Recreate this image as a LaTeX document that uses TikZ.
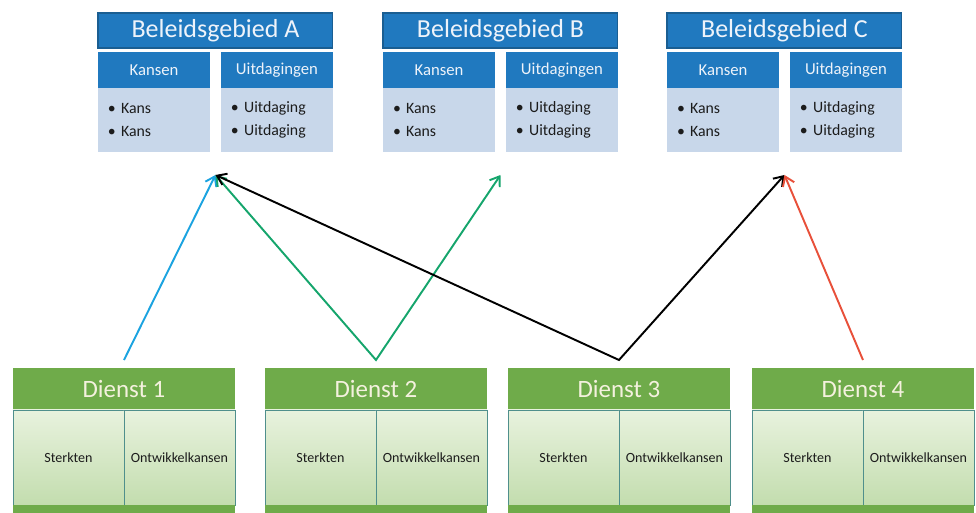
\documentclass[tikz,border=0pt]{standalone}
\usepackage{fontspec}
\setmainfont{Carlito}
\usepackage{xcolor}
\usetikzlibrary{arrows.meta, calc, positioning}
\definecolor{BlueDark}  {HTML}{2079BF}
\definecolor{BlueEdge}  {HTML}{1A5E92}
\definecolor{BlueLight} {HTML}{C8D7EA}
\definecolor{HeadText}  {HTML}{EEF3FA}
\definecolor{GreenHead} {HTML}{6FAB4A}
\definecolor{GreenTop}  {HTML}{E8F2DE}
\definecolor{GreenBot}  {HTML}{C3DDAE}
\definecolor{CellEdge}  {HTML}{4F8F8C}
\definecolor{DienstText}{HTML}{F4F1DE}
\definecolor{Ink}       {HTML}{1C1C1C}
\definecolor{ArrowBlue} {HTML}{1BA3E0}
\definecolor{ArrowGreen}{HTML}{15A56C}
\definecolor{ArrowRed}  {HTML}{E8503A}

\begin{document}
\begin{tikzpicture}[x=0.02cm, y=-0.02cm, inner sep=0pt, outer sep=0pt,
  beleidhead/.style={fill=BlueDark, draw=BlueEdge, line width=0.6pt, text=HeadText,
    minimum width=4.70cm, minimum height=0.70cm, anchor=north west,
    font=\fontsize{14.8}{17}\selectfont},
  subhead/.style={fill=BlueDark, text=HeadText, minimum width=2.24cm,
    minimum height=0.72cm, font=\fontsize{9.5}{11}\selectfont},
  subbody/.style={fill=BlueLight, text=Ink, text width=1.84cm, inner xsep=0.2cm,
    minimum height=1.28cm, align=left, font=\fontsize{9}{13}\selectfont},
  diensthead/.style={fill=GreenHead, text=DienstText, minimum width=4.44cm,
    minimum height=0.84cm, anchor=north west, font=\fontsize{14.2}{16}\selectfont},
  cell/.style={top color=GreenTop, bottom color=GreenBot, draw=CellEdge, line width=0.4pt,
    minimum width=2.22cm, minimum height=1.9cm, anchor=north west, text=Ink,
    font=\fontsize{8}{10}\selectfont},
  strip/.style={fill=GreenHead, minimum width=4.44cm, minimum height=0.16cm, anchor=north west},
  link/.style={line width=1.1pt, {Straight Barb[length=5pt,width=7pt]}-{Straight Barb[length=5pt,width=7pt]}},
  uplink/.style={line width=1.1pt, -{Straight Barb[length=5pt,width=7pt]}}]

  \useasboundingbox (0,0) rectangle (976,513);

  % Beleidsgebied A
  \node[beleidhead] (belA) at (98,13) {Beleidsgebied A};
  \node[subhead, anchor=north west] (kansAh) at (98,52) {Kansen};
  \node[subbody, below=0pt of kansAh] (kansAb) {\textbullet\ Kans\\\textbullet\ Kans};
  \node[subhead, right=0.22cm of kansAh] (uitAh) {Uitdagingen};
  \node[subbody, below=0pt of uitAh] (uitAb) {\textbullet\ Uitdaging\\\textbullet\ Uitdaging};

  % Beleidsgebied B
  \node[beleidhead] (belB) at (383,13) {Beleidsgebied B};
  \node[subhead, anchor=north west] (kansBh) at (383,52) {Kansen};
  \node[subbody, below=0pt of kansBh] (kansBb) {\textbullet\ Kans\\\textbullet\ Kans};
  \node[subhead, right=0.22cm of kansBh] (uitBh) {Uitdagingen};
  \node[subbody, below=0pt of uitBh] (uitBb) {\textbullet\ Uitdaging\\\textbullet\ Uitdaging};

  % Beleidsgebied C
  \node[beleidhead] (belC) at (667,13) {Beleidsgebied C};
  \node[subhead, anchor=north west] (kansCh) at (667,52) {Kansen};
  \node[subbody, below=0pt of kansCh] (kansCb) {\textbullet\ Kans\\\textbullet\ Kans};
  \node[subhead, right=0.22cm of kansCh] (uitCh) {Uitdagingen};
  \node[subbody, below=0pt of uitCh] (uitCb) {\textbullet\ Uitdaging\\\textbullet\ Uitdaging};

  % Diensten
  \node[diensthead] (d1) at (13,368) {Dienst 1};
  \node[cell] (ster1) at (d1.south west) {Sterkten};
  \node[cell] (ontw1) at (ster1.north east) {Ontwikkelkansen};
  \node[strip] (strip1) at (ster1.south west) {};

  \node[diensthead] (d2) at (265,368) {Dienst 2};
  \node[cell] (ster2) at (d2.south west) {Sterkten};
  \node[cell] (ontw2) at (ster2.north east) {Ontwikkelkansen};
  \node[strip] (strip2) at (ster2.south west) {};

  \node[diensthead] (d3) at (508,368) {Dienst 3};
  \node[cell] (ster3) at (d3.south west) {Sterkten};
  \node[cell] (ontw3) at (ster3.north east) {Ontwikkelkansen};
  \node[strip] (strip3) at (ster3.south west) {};

  \node[diensthead] (d4) at (752,368) {Dienst 4};
  \node[cell] (ster4) at (d4.south west) {Sterkten};
  \node[cell] (ontw4) at (ster4.north east) {Ontwikkelkansen};
  \node[strip] (strip4) at (ster4.south west) {};

  % arrow ends
  \coordinate (tA) at ($(kansAb.south east)!.5!(uitAb.south west)+(0,23)$);
  \coordinate (tB) at ($(kansBb.south east)!.5!(uitBb.south west)+(0,23)$);
  \coordinate (tC) at ($(kansCb.south east)!.5!(uitCb.south west)+(0,23)$);
  \coordinate (s1) at ($(d1.north)+(0,-8)$);
  \coordinate (s2) at ($(d2.north)+(0,-8)$);
  \coordinate (s3) at ($(d3.north)+(0,-8)$);
  \coordinate (s4) at ($(d4.north)+(0,-8)$);

  \draw[uplink, ArrowBlue] (s1) -- (tA);
  \draw[link, ArrowGreen] (tA) -- (s2) -- (tB);
  \draw[link, black] (tA) -- (s3) -- (tC);
  \draw[uplink, ArrowRed] (s4) -- (tC);
\end{tikzpicture}
\end{document}
